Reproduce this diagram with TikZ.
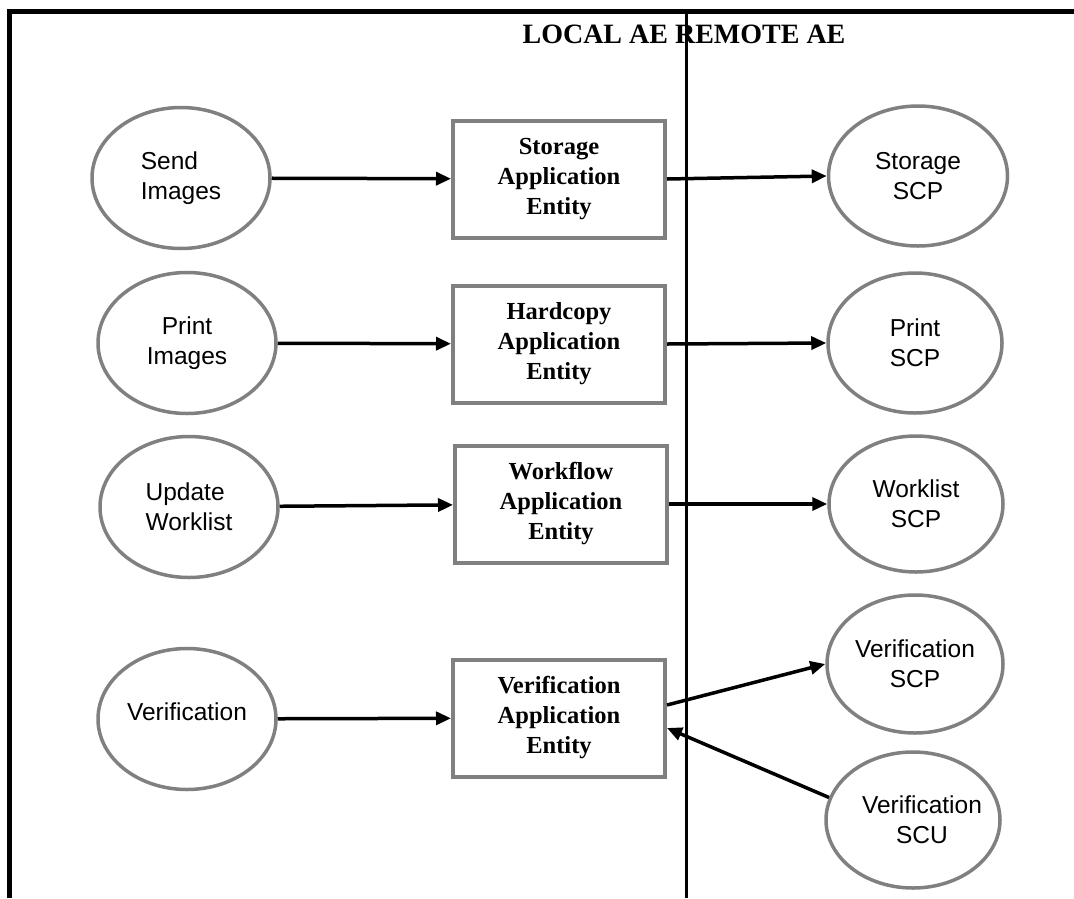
\documentclass[tikz,border=0pt]{standalone}
\usepackage{fontspec}
\setmainfont{Liberation Serif}
\setsansfont{Liberation Sans}
\usetikzlibrary{arrows.meta,shapes.geometric}
\definecolor{edgegray}{RGB}{128,128,128}
\tikzset{
  oval/.style={ellipse,draw=edgegray,line width=3.5pt,inner sep=0pt,
    minimum width=178pt,minimum height=141pt,
    font=\sffamily\fontsize{24.5}{30}\selectfont},
  aebox/.style={rectangle,draw=edgegray,line width=4pt,inner sep=0pt,
    minimum width=212pt,minimum height=117pt,align=center,
    font=\bfseries\fontsize{24.5}{30}\selectfont},
  flow/.style={line width=3.5pt,-{Triangle[length=15pt,width=13pt]}},
  rule/.style={line width=5pt},
  divider/.style={line width=3pt}
}
\begin{document}
\begin{tikzpicture}[x=1pt,y=1pt]
\useasboundingbox (0,0) rectangle (1074,-898);
% frame
\draw[rule] (7,-11.5) -- (1074,-11.5);
\draw[rule] (9.5,-9) -- (9.5,-898);
% title
\node[anchor=base,font=\bfseries\fontsize{28}{32}\selectfont,inner sep=0pt] (title) at (684,-43) {LOCAL AE REMOTE AE};
\draw[divider] (686,-9) -- (686,-898);
% left ellipses
\node[oval,align=left] (e1) at (181,-178) {Send\\Images};
\node[oval,align=center] (e2) at (187,-343) {Print\\Images};
\node[oval,align=left] (e3) at (189,-507) {Update\\Worklist};
\node[oval,label={[yshift=7pt,font=\sffamily\fontsize{24.5}{30}\selectfont]center:Verification}] (e4) at (187,-719) {};
% boxes
\node[aebox] (b1) at (559,-179) {Storage\\Application\\Entity};
\node[aebox] (b2) at (559,-344) {Hardcopy\\Application\\Entity};
\node[aebox] (b3) at (561,-504) {Workflow\\Application\\Entity};
\node[aebox] (b4) at (559,-718) {Verification\\Application\\Entity};
% right ellipses
\node[oval,align=center,minimum width=179pt,minimum height=140pt] (r1) at (918,-176) {Storage\\SCP};
\node[oval,align=center,minimum width=174pt,minimum height=140pt] (r2) at (915,-343) {Print\\SCP};
\node[oval,align=center,minimum width=174pt,minimum height=136pt] (r3) at (916,-504) {Worklist\\SCP};
\node[oval,align=center,minimum width=176pt,minimum height=138pt] (r4) at (915,-664) {Verification\\SCP};
\node[oval,minimum width=174pt,minimum height=136pt,
  label={[xshift=9pt,align=center,font=\sffamily\fontsize{24.5}{30}\selectfont]center:Verification\\SCU}] (r5) at (913,-820) {};
% connectors
\draw[flow] (e1) -- (b1);
\draw[flow] (e2) -- (b2);
\draw[flow] (e3) -- (b3);
\draw[flow] (e4) -- (b4);
\draw[flow] (b1.east) -- (r1.west);
\draw[flow] (b2.east) -- (r2.west);
\draw[flow] (b3.east) -- (r3.west);
\draw[flow] ([yshift=13pt]b4.east) -- (r4.west);
\draw[flow] (r5.165) -- ([yshift=-10pt]b4.east);
\end{tikzpicture}
\end{document}
